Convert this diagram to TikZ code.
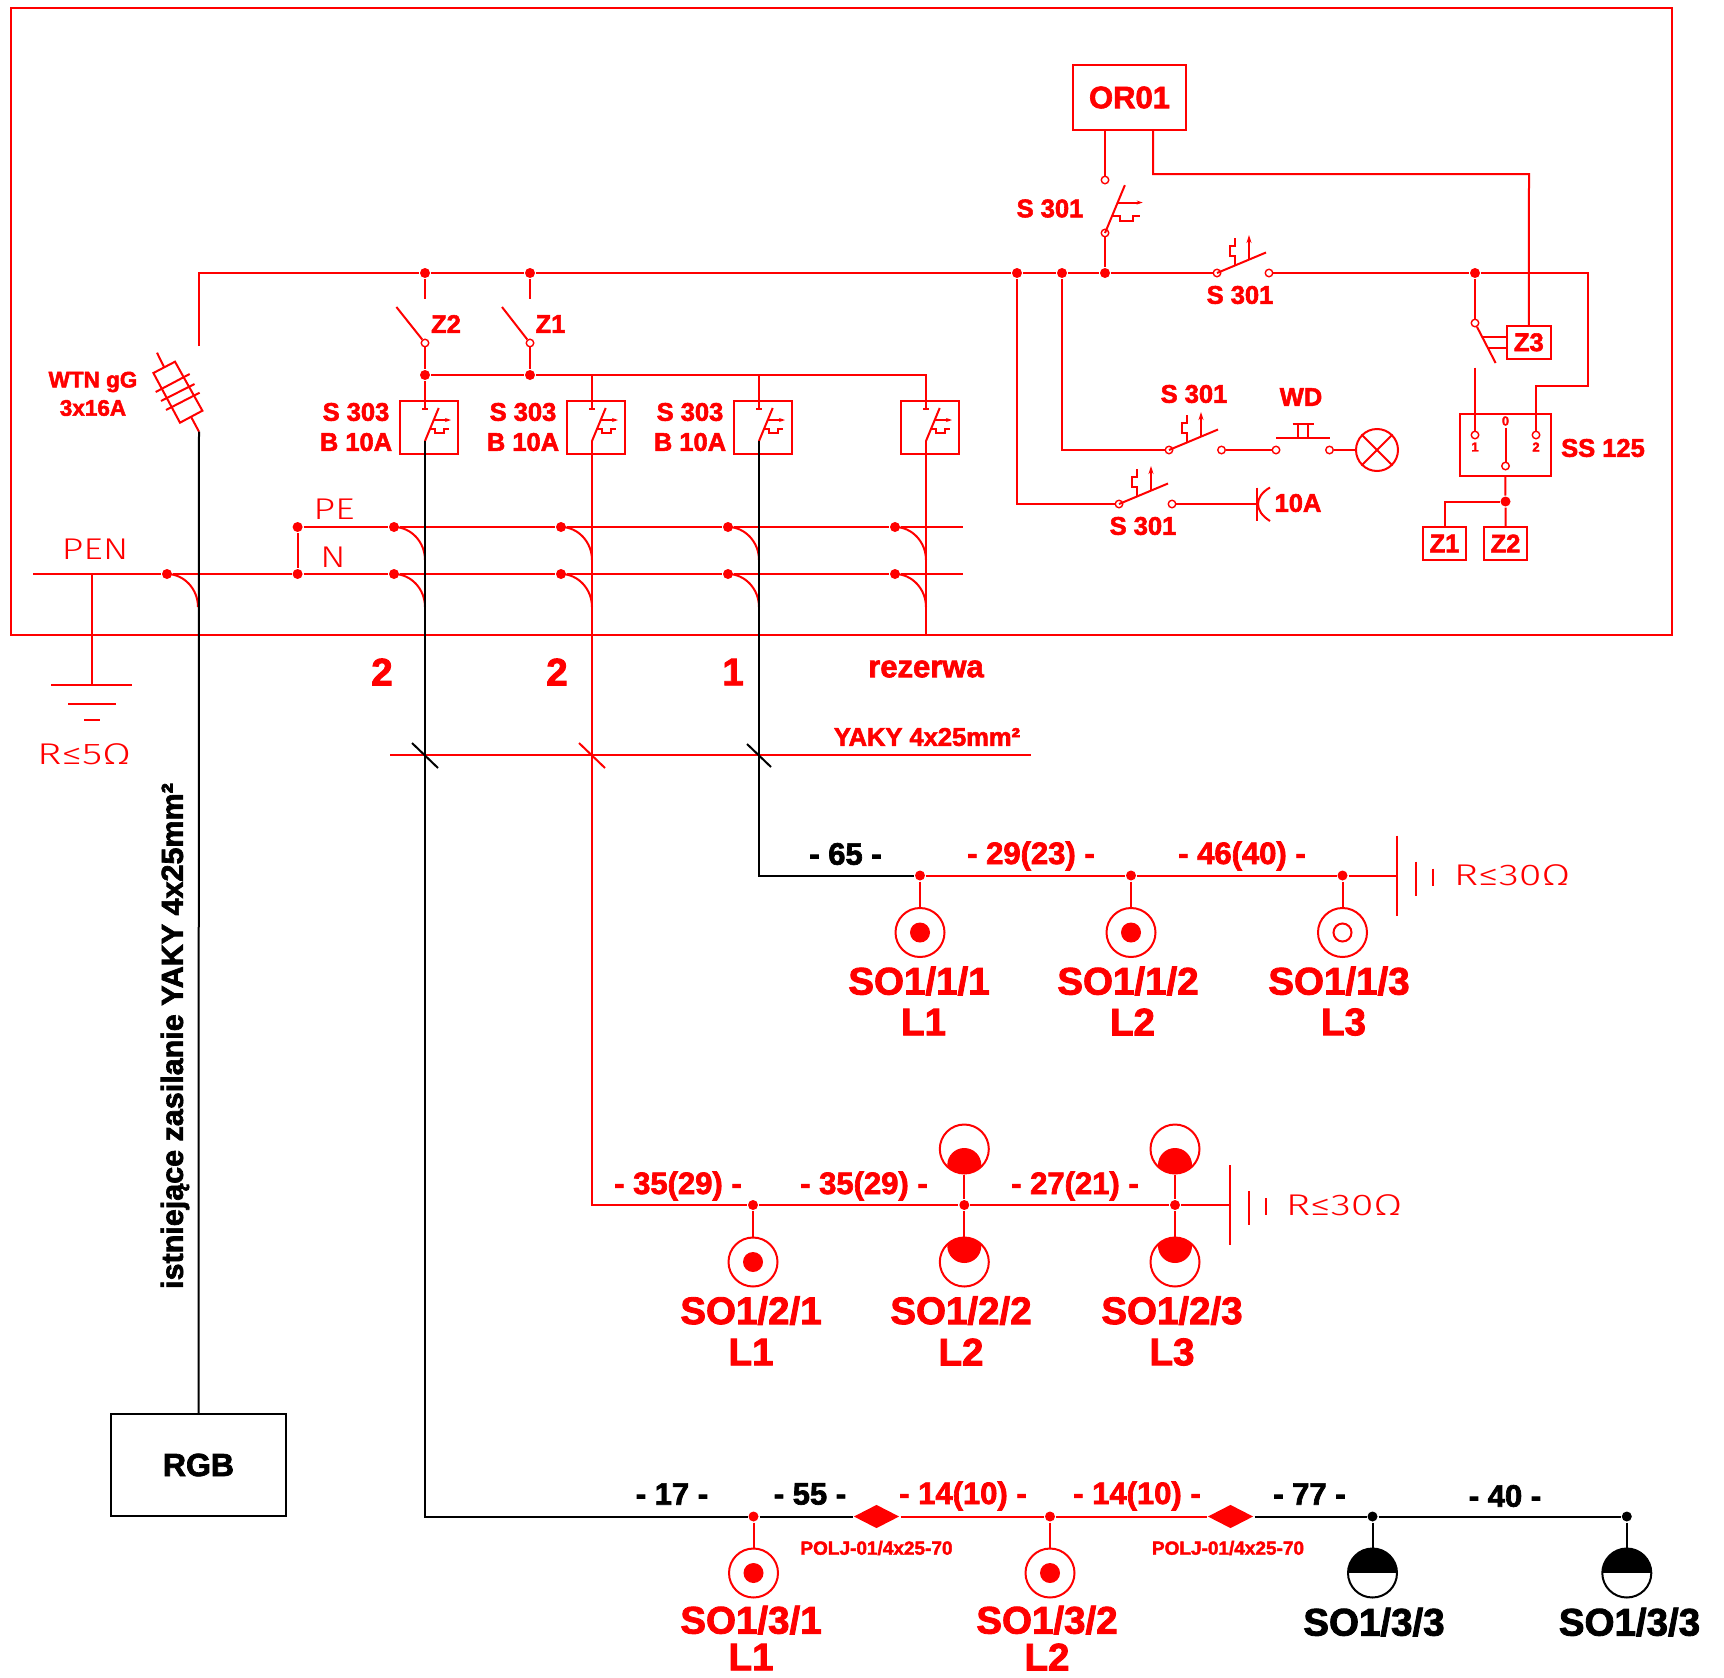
\documentclass[tikz,border=0pt]{standalone}
\usepackage{fontspec}
\setmainfont[BoldFeatures={FakeBold=2.2}]{Liberation Sans}
\newfontfamily\thinfont[FakeStretch=1.27]{Fira Sans Light}
\newfontfamily\thinwide[FakeStretch=1.38]{Fira Sans Light}
\usetikzlibrary{arrows.meta,shapes.geometric}
\newcommand{\fsize}[1]{\fontsize{#1}{#1}\selectfont}
\begin{document}
\begin{tikzpicture}[x=1pt, y=-1pt, red, line width=2pt,
    dot/.style={circle, fill, inner sep=0pt, minimum size=10pt},
    term/.style={circle, draw, inner sep=0pt, minimum size=7.5pt, line width=1.4pt},
    box/.style={rectangle, draw, inner sep=0pt},
    joint/.style={diamond, fill, aspect=1.9, inner sep=0pt, minimum width=46pt, minimum height=24pt},
    sock/.style={circle, draw, inner sep=0pt, minimum size=49pt},
    sockon/.style={sock, path picture={\fill (path picture bounding box.center) circle (10);}},
    sockoff/.style={sock, path picture={\draw (path picture bounding box.center) circle (9);}},
    sockup/.style={sock, path picture={\fill (path picture bounding box.center) ++(0,16) circle (17);}},
    sockdown/.style={sock, path picture={\fill (path picture bounding box.center) ++(0,-16) circle (17);}},
    sockhalf/.style={sock, black, path picture={\fill (path picture bounding box.north west) rectangle (path picture bounding box.east);}},
    labsm/.style={inner sep=0pt, font=\bfseries\fsize{25.5}},
    labdist/.style={inner sep=0pt, font=\bfseries\fsize{31}},
    labbig/.style={inner sep=0pt, font=\bfseries\fsize{38.5}},
    labthin/.style={inner sep=0pt, font=\thinfont\fsize{30}},
    labres/.style={inner sep=0pt, font=\thinwide\fsize{30}},
    pics/relay/.style={code={
        \draw (0,0) -- (49,-20.5);
        \draw[-{Stealth[length=8pt,width=5pt]}] (32,-13) -- (32,-38);
        \draw (18,-8) -- (18,-17) -- (13,-17) -- (13,-27) -- (18,-27) -- (18,-35);
    }},
    pics/trip/.style={code={
        \draw (0,0) -- (13.7,-33);
        \draw[-{Stealth[length=6pt,width=4pt]}] (8.7,-21) -- (26,-21);
        \draw (5,-12) -- (10,-12) -- (10,-8.3) -- (19,-8.3) -- (19,-12) -- (24,-12);
    }},
    pics/tap/.style={code={\draw (0,0) .. controls (17,0) and (31,15) .. (31,33);}},
    pics/earthbar/.style={code={
        \draw (0,-40) -- (0,40);
        \draw (19,-14) -- (19,20);
        \draw (36,-7) -- (36,10);
    }}]
    \useasboundingbox (0,0) rectangle (1724,1678);

    % frame of the cabinet
    \draw (11,8) rectangle (1672,635);

    % control part
    \node[box, minimum width=113pt, minimum height=65pt, labdist] (or01) at (1129.5,97.5) {OR01};
    \node[box, minimum width=43.5pt, minimum height=33pt, labsm] (z3) at (1528.8,342.3) {Z3};
    \node[box, minimum width=91.5pt, minimum height=62pt] (ss) at (1505.3,445) {};
    \node[box, minimum width=43pt, minimum height=33pt, labsm] (z1b) at (1444.5,543.5) {Z1};
    \node[box, minimum width=43pt, minimum height=33pt, labsm] (z2b) at (1505.5,543.5) {Z2};

    \node[dot] (jz2) at (425,273) {};
    \node[dot] (jz1) at (530,273) {};
    \node[dot] (jcoil) at (1017,273) {};
    \node[dot] (jlamp) at (1062,273) {};
    \node[dot] (jor) at (1105,273) {};
    \node[dot] (jz3) at (1475,273) {};
    \node[dot] (jss) at (1505.5,501.5) {};

    \node[term] (or1) at (1105,180) {};
    \node[term] (or2) at (1105,233) {};
    \node[term] (a1) at (1217,273) {};
    \node[term] (a2) at (1269,273) {};
    \node[term] (b1) at (1169,450) {};
    \node[term] (b2) at (1221.5,450) {};
    \node[term] (c1) at (1119,504) {};
    \node[term] (c2) at (1172,504) {};
    \node[term] (wd1) at (1276,450) {};
    \node[term] (wd2) at (1329.5,450) {};
    \node[term] (z3t) at (1475,323) {};
    \node[term] (ss1) at (1475,435) {};
    \node[term] (ss2) at (1536,435) {};
    \node[term] (ss0) at (1505.5,466) {};
    \node[circle, draw, inner sep=0pt, minimum size=42pt] (lamp) at (1377,450) {};
    \draw (lamp.north west) -- (lamp.south east);
    \draw (lamp.north east) -- (lamp.south west);

    \coordinate (orr) at (1153,130);
    \coordinate (orl) at (1105,130);
    \coordinate (busstart) at (199,346);
    \coordinate (busturn) at (1588,386);
    \coordinate (z3low) at (1475,367.5);
    \coordinate (ss0top) at (1505.5,427.5);
    \coordinate (bell) at (1257,504);

    \draw (orl) -- (or1);
    \draw (or2) -- (jor);
    \draw (orr) |- (1529,174) -- (z3.north);
    \draw (busstart) |- (jz2) -- (jz1) -- (jcoil) -- (jlamp) -- (jor) -- (a1);
    \draw (a2) -- (jz3) -- (1588,273) -- (busturn) -- (1536,386) -- (ss2);
    \draw (jz3) -- (z3t);
    \draw (z3low) -- (ss1);
    \draw (jlamp) |- (b1);
    \draw (jcoil) |- (c1);
    \draw (b2) -- (wd1);
    \draw (wd2) -- (lamp);
    \draw (c2) -- (bell);
    \draw (ss0top) -- (ss0);
    \draw (ss.south) -- (jss) -- (z2b.north);
    \draw (jss) -| (z1b.north);

    \draw pic[scale=1.45] at (or2) {trip};
    \draw pic at (a1) {relay};
    \draw pic at (b1) {relay};
    \draw pic at (c1) {relay};
    % blade of Z3 with its coil link
    \draw (z3t) -- (1495.6,363);
    \draw (1482,337) -- (1507,337);
    \draw (1488,348) -- (1507,348);
    % push button WD
    \draw (1276,438) -- (1329.5,438);
    \draw (1298,438) -- (1298,424);
    \draw (1308,438) -- (1308,424);
    \draw (1292.5,424) -- (1313.5,424);
    % bell
    \draw (1257,487.5) -- (1257,521);
    \draw (1270,487.5) .. controls (1262,492) and (1258,498) .. (1258,504) .. controls (1258,510) and (1262,516) .. (1270,521);

    \node[labsm] (s301a) at (1050,208.5) {S 301};
    \node[labsm] (s301b) at (1240,295) {S 301};
    \node[labsm] (s301c) at (1194,394) {S 301};
    \node[labsm] (s301d) at (1143,526) {S 301};
    \node[labsm] (wd) at (1301,397) {WD};
    \node[labsm] (a10) at (1298,503) {10A};
    \node[labsm] (ss125) at (1603,448) {SS 125};
    \node[inner sep=0pt, font=\bfseries\fsize{13}] (ssn1) at (1475,447) {1};
    \node[inner sep=0pt, font=\bfseries\fsize{13}] (ssn2) at (1536,447) {2};
    \node[inner sep=0pt, font=\bfseries\fsize{13}] (ssn0) at (1505.5,421) {0};

    % main switches and breakers
    \node[term] (z2t) at (425,343) {};
    \node[term] (z1t) at (530,343) {};
    \node[dot] (jb2) at (425,375) {};
    \node[dot] (jb1) at (530,375) {};
    \coordinate (z2low) at (425,299);
    \coordinate (z1low) at (530,299);
    \coordinate (tick1) at (425,409);
    \coordinate (tick2) at (592,409);
    \coordinate (tick3) at (759,409);
    \coordinate (tick4) at (926,409);
    \coordinate (brk1) at (425,441);
    \coordinate (brk2) at (592,441);
    \coordinate (brk3) at (759,441);
    \coordinate (brk4) at (926,441);
    \draw (jz2) -- (z2low);
    \draw (jz1) -- (z1low);
    \draw (z2t) -- (396.4,307);
    \draw (z1t) -- (502,307);
    \draw (z2t) -- (jb2) -- (tick1);
    \draw (z1t) -- (jb1);
    \draw (jb2) -- (jb1) -- (926,375) -- (tick4);
    \draw (592,375) -- (tick2);
    \draw (759,375) -- (tick3);
    \draw (422,409) -- (428,409);
    \draw (589,409) -- (595,409);
    \draw (756,409) -- (762,409);
    \draw (923,409) -- (929,409);

    \node[box, minimum width=58pt, minimum height=53pt] (q1) at (429,427.5) {};
    \node[box, minimum width=58pt, minimum height=53pt] (q2) at (596,427.5) {};
    \node[box, minimum width=58pt, minimum height=53pt] (q3) at (763,427.5) {};
    \node[box, minimum width=58pt, minimum height=53pt] (q4) at (930,427.5) {};
    \draw pic at (brk1) {trip};
    \draw pic at (brk2) {trip};
    \draw pic at (brk3) {trip};
    \draw pic at (brk4) {trip};

    \node[labsm] (z2) at (446,324) {Z2};
    \node[labsm] (z1) at (550.5,324) {Z1};
    \node[labsm] (s303a) at (356,412) {S 303};
    \node[labsm] (b10a) at (356,442) {B 10A};
    \node[labsm] (s303b) at (523,412) {S 303};
    \node[labsm] (b10b) at (523,442) {B 10A};
    \node[labsm] (s303c) at (690,412) {S 303};
    \node[labsm] (b10c) at (690,442) {B 10A};

    % fuse
    \draw (157,352.7) -- (164,367);
    \draw (153.4,373) -- (175,361.7) -- (202.4,410.7) -- (180,422.7) -- cycle;
    \draw (191,416.7) -- (199,431.7);
    \draw (155.7,392) -- (189.7,374);
    \draw (161,401) -- (194.5,384);
    \draw (166,410) -- (199.6,392.7);
    \node[inner sep=0pt, font=\bfseries\fsize{22.5}] (wtn) at (93,382) {WTN gG};
    \node[inner sep=0pt, font=\bfseries\fsize{22.5}] (wtn16) at (93,408) {3x16A};

    % PE and N bars
    \node[dot] (pe0) at (297.6,527) {};
    \node[dot] (n0) at (297.6,574) {};
    \node[dot] (pen) at (167,574) {};
    \node[dot] (pe1) at (394,527) {};
    \node[dot] (pe2) at (561,527) {};
    \node[dot] (pe3) at (728,527) {};
    \node[dot] (pe4) at (895,527) {};
    \node[dot] (n1) at (394,574) {};
    \node[dot] (n2) at (561,574) {};
    \node[dot] (n3) at (728,574) {};
    \node[dot] (n4) at (895,574) {};
    \coordinate (penend) at (33,574);
    \coordinate (peend) at (963,527);
    \coordinate (nend) at (963,574);
    \coordinate (earth) at (92,685);
    \draw (pe0) -- (pe1) -- (pe2) -- (pe3) -- (pe4) -- (peend);
    \draw (penend) -- (pen) -- (n0) -- (n1) -- (n2) -- (n3) -- (n4) -- (nend);
    \draw (pe0) -- (n0);
    \draw (92,574) -- (earth);
    \draw (51,685) -- (132,685);
    \draw (68,704) -- (115.5,704);
    \draw (84,720) -- (99.6,720);
    \draw pic at (pen) {tap};
    \draw pic at (pe1) {tap};
    \draw pic at (n1) {tap};
    \draw pic at (pe2) {tap};
    \draw pic at (n2) {tap};
    \draw pic at (pe3) {tap};
    \draw pic at (n3) {tap};
    \draw pic at (pe4) {tap};
    \draw pic at (n4) {tap};
    \node[labthin] (lpen) at (95,549) {PEN};
    \node[labthin] (lpe) at (334,509) {PE};
    \node[labthin] (ln) at (333,557) {N};
    \node[labres] (lr5) at (84,754) {R≤5Ω};

    % cable count and reserve
    \node[labbig] (n2a) at (382,672) {2};
    \node[labbig] (n2b) at (557,672) {2};
    \node[labbig] (n1a) at (733,672) {1};
    \node[labdist] (rez) at (926,669) {rezerwa};
    \node[labsm] (yaky) at (927,737) {YAKY 4x25mm²};
    \coordinate (cabl) at (390,755);
    \coordinate (cabr) at (1031,755);
    \coordinate (frm4) at (926,635);
    \draw (cabl) -- (cabr);
    \draw (brk4) -- (frm4);

    % circuit 1
    \node[dot] (j11) at (920,875.5) {};
    \node[dot] (j12) at (1131,875.5) {};
    \node[dot] (j13) at (1342.5,875.5) {};
    \coordinate (e1) at (1397,875.5);
    \node[sockon] (so11) at (920,932.5) {};
    \node[sockon] (so12) at (1131,932.5) {};
    \node[sockoff] (so13) at (1342.5,932.5) {};
    \draw (j11) -- (j12) -- (j13) -- (e1);
    \draw (j11) -- (so11);
    \draw (j12) -- (so12);
    \draw (j13) -- (so13);
    \draw pic at (e1) {earthbar};
    \node[labres] (lr30a) at (1512,875) {R≤30Ω};
    \node[labdist, black] (d11) at (845.5,854) {- 65 -};
    \node[labdist] (d12) at (1031,856) {- 29(23) -};
    \node[labdist] (d13) at (1242,856) {- 46(40) -};
    \node[labbig] (t11) at (919,981) {SO1/1/1};
    \node[labbig] (t12) at (1128,981) {SO1/1/2};
    \node[labbig] (t13) at (1339,981) {SO1/1/3};
    \node[labbig] (p11) at (923.5,1022) {L1};
    \node[labbig] (p12) at (1132.5,1022) {L2};
    \node[labbig] (p13) at (1343.5,1022) {L3};

    % circuit 2
    \node[dot] (j21) at (753,1205) {};
    \node[dot] (j22) at (964.3,1205) {};
    \node[dot] (j23) at (1175,1205) {};
    \coordinate (e2) at (1230,1205);
    \node[sockon] (so21) at (753,1262) {};
    \node[sockdown] (so22) at (964.3,1262) {};
    \node[sockdown] (so23) at (1175,1262) {};
    \node[sockup] (so22u) at (964.3,1149) {};
    \node[sockup] (so23u) at (1175,1149) {};
    \draw (brk2) |- (j21) -- (j22) -- (j23) -- (e2);
    \draw (j21) -- (so21);
    \draw (so22u) -- (j22) -- (so22);
    \draw (so23u) -- (j23) -- (so23);
    \draw pic at (e2) {earthbar};
    \node[labres] (lr30b) at (1344,1205) {R≤30Ω};
    \node[labdist] (d21) at (678,1186) {- 35(29) -};
    \node[labdist] (d22) at (864,1186) {- 35(29) -};
    \node[labdist] (d23) at (1075,1186) {- 27(21) -};
    \node[labbig] (t21) at (751,1310.5) {SO1/2/1};
    \node[labbig] (t22) at (961,1310.5) {SO1/2/2};
    \node[labbig] (t23) at (1172,1310.5) {SO1/2/3};
    \node[labbig] (p21) at (751,1352) {L1};
    \node[labbig] (p22) at (961,1352) {L2};
    \node[labbig] (p23) at (1172,1352) {L3};

    % circuit 3
    \node[dot] (j31) at (753.5,1516.5) {};
    \node[joint] (dia1) at (876.5,1516.5) {};
    \node[dot] (j32) at (1050,1516.5) {};
    \node[joint] (dia2) at (1230.5,1516.5) {};
    \node[dot, black] (j33) at (1372.5,1516.5) {};
    \node[dot, black] (j34) at (1626.8,1516.5) {};
    \node[sockon] (so31) at (753.5,1573) {};
    \node[sockon] (so32) at (1050,1573) {};
    \node[sockhalf] (so33) at (1372.5,1573) {};
    \node[sockhalf] (so34) at (1626.8,1573) {};
    \draw (dia1) -- (j32) -- (dia2);
    \draw (j31) -- (so31);
    \draw (j32) -- (so32);
    \node[inner sep=0pt, font=\bfseries\fsize{19}] (pol1) at (876.5,1548) {POLJ-01/4x25-70};
    \node[inner sep=0pt, font=\bfseries\fsize{19}] (pol2) at (1228,1548) {POLJ-01/4x25-70};
    \node[labdist, black] (d31) at (672,1494) {- 17 -};
    \node[labdist, black] (d32) at (810,1494) {- 55 -};
    \node[labdist] (d33) at (963,1496) {- 14(10) -};
    \node[labdist] (d34) at (1137,1496) {- 14(10) -};
    \node[labdist, black] (d35) at (1309.5,1494) {- 77 -};
    \node[labdist, black] (d36) at (1505,1496) {- 40 -};
    \node[labbig] (t31) at (751,1620) {SO1/3/1};
    \node[labbig] (t32) at (1047,1620) {SO1/3/2};
    \node[labbig, black] (t33) at (1374,1622) {SO1/3/3};
    \node[labbig, black] (t34) at (1629.5,1622) {SO1/3/3};
    \node[labbig] (p31) at (751,1657) {L1};
    \node[labbig] (p32) at (1047,1657) {L2};

    % black feeders
    \node[box, black, minimum width=175pt, minimum height=102pt, inner sep=0pt, font=\bfseries\fsize{32}] (rgb) at (198.5,1465) {RGB};
    \coordinate (fusebot) at (199,431.7);
    \draw[black] (fusebot) -- (rgb.north);
    \draw[black] (brk1) |- (j31) -- (dia1);
    \draw[black] (brk3) |- (j11);
    \draw[black] (dia2) -- (j33) -- (j34);
    \draw[black] (j33) -- (so33);
    \draw[black] (j34) -- (so34);
    \draw[black] (412,743) -- (438,768);
    \draw (579,743) -- (605,768);
    \draw[black] (747,744) -- (771,767);
    \node[inner sep=0pt, black, rotate=90, font=\bfseries\fsize{30.5}] (feed) at (175,1036) {istniejące zasilanie YAKY 4x25mm²};
\end{tikzpicture}
\end{document}
